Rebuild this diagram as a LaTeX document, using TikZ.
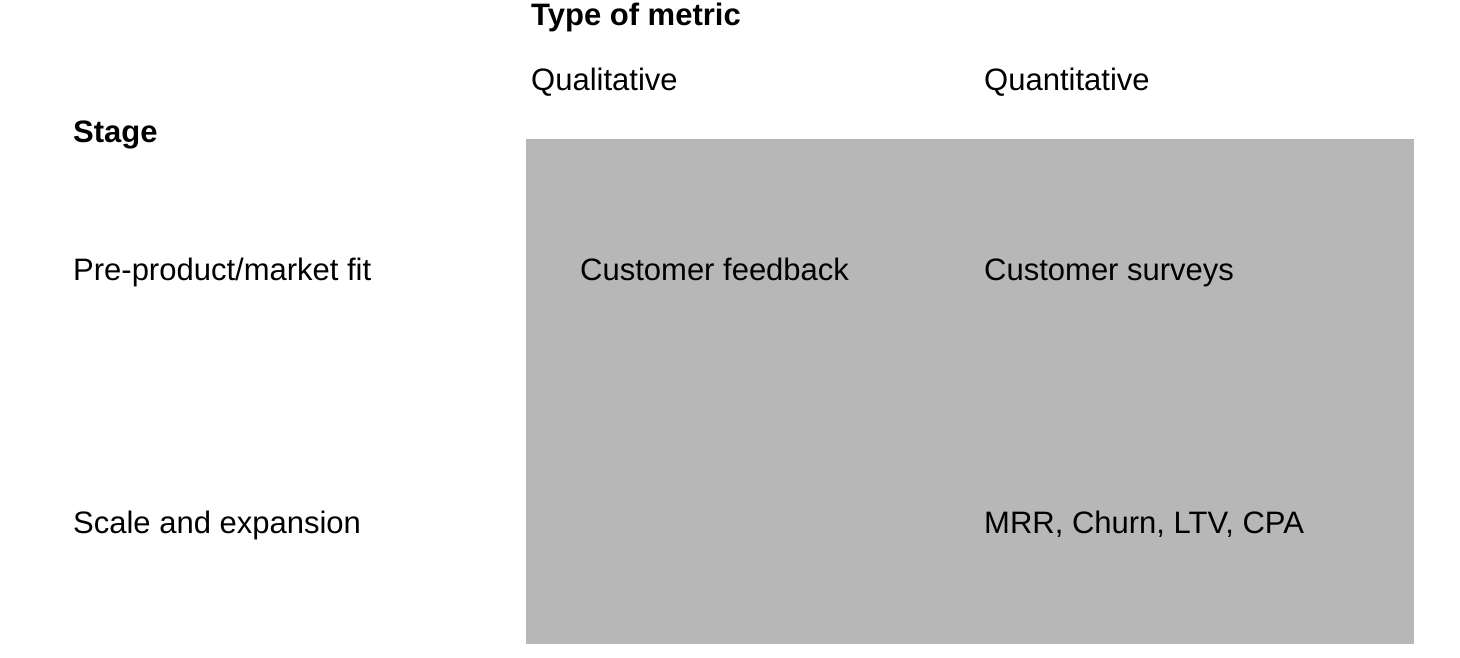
\documentclass[tikz,border=0pt]{standalone}
\usepackage{fontspec}
\setmainfont{Liberation Sans}
\definecolor{cellgray}{HTML}{B7B7B7}
\begin{document}
\begin{tikzpicture}[x=1pt,y=-1pt,
  lbl/.style={anchor=base west,inner sep=0pt,font=\fontsize{31}{37}\selectfont},
  hdr/.style={lbl,font=\fontsize{31}{37}\selectfont\bfseries}]
\useasboundingbox (0,0) rectangle (1460,657);
\fill[cellgray] (526,139) rectangle (1414,644);
\node[hdr] (tm) at (531,25) {Type of metric};
\node[lbl] (ql) at (531,90) {Qualitative};
\node[lbl] (qn) at (984,90) {Quantitative};
\node[hdr] (st) at (73,142) {Stage};
\node[lbl] (pp) at (73,280) {Pre-product/market fit};
\node[lbl] (cf) at (580,280) {Customer feedback};
\node[lbl] (cs) at (984,280) {Customer surveys};
\node[lbl] (se) at (73,533) {Scale and expansion};
\node[lbl] (mr) at (984,533) {MRR, Churn, LTV, CPA};
\end{tikzpicture}
\end{document}
